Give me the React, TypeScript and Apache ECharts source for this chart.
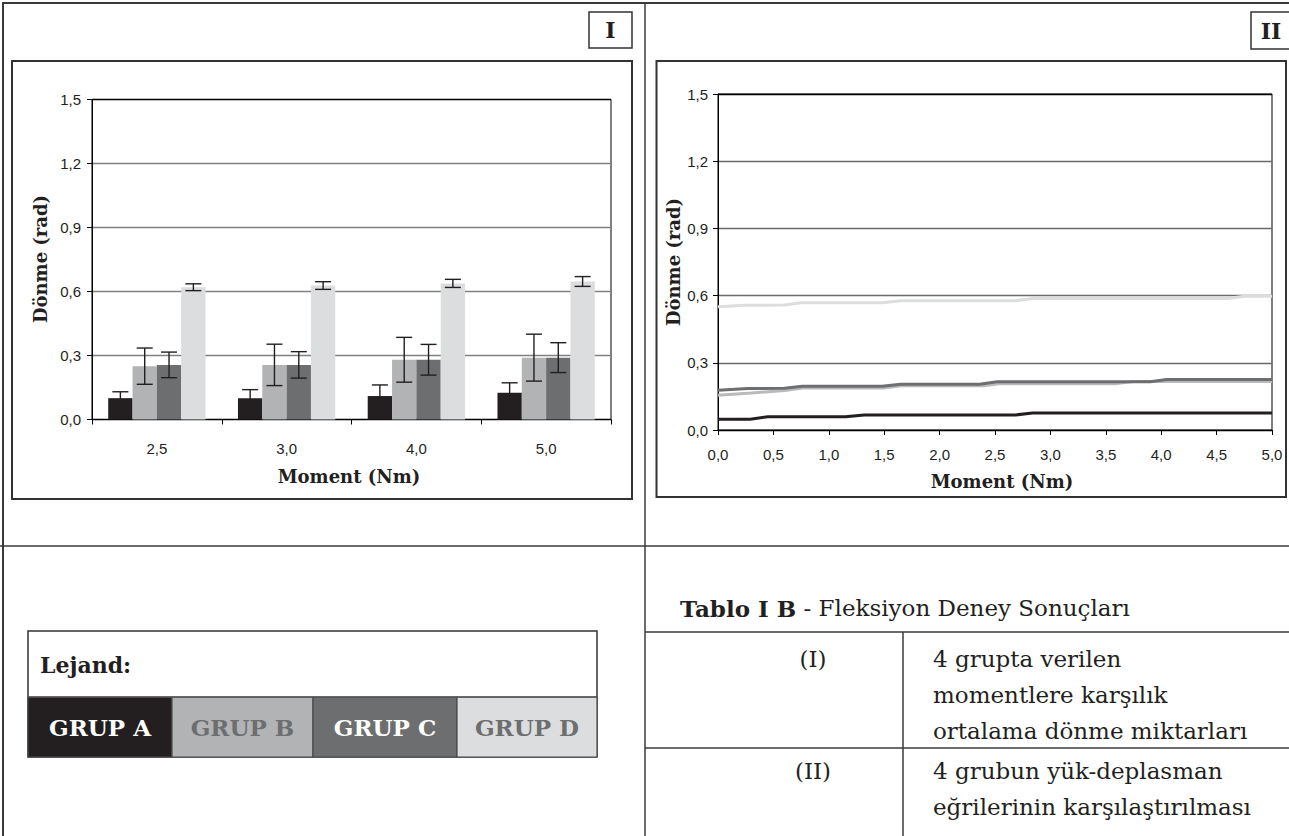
import React, { useEffect, useRef } from 'react';
import * as echarts from 'echarts';

// ---------- data ----------
const momentCats = ['2,5', '3,0', '4,0', '5,0'];
const groupNames = ['GRUP A', 'GRUP B', 'GRUP C', 'GRUP D'];
const groupColors = ['#231f20', '#b2b3b5', '#6d6e70', '#dcdddf'];
const lineColors = ['#231f20', '#b9babc', '#6d6e70', '#dcdddf'];

// Chart I: mean rotation (rad) per moment
const barA = [0.10, 0.10, 0.11, 0.125];
const barB = [0.25, 0.256, 0.28, 0.29];
const barC = [0.256, 0.256, 0.28, 0.29];
const barD = [0.62, 0.628, 0.638, 0.647];
// error (half-range)
const errA = [0.03, 0.04, 0.052, 0.047];
const errB = [0.085, 0.097, 0.105, 0.11];
const errC = [0.06, 0.062, 0.072, 0.07];
const errD = [0.016, 0.018, 0.019, 0.023];

// Chart II: curves [moment, rotation]
const curveA = [[0, 0.048], [0.29, 0.048], [0.45, 0.059], [1.15, 0.059], [1.32, 0.067], [2.68, 0.067], [2.84, 0.076], [5, 0.076]];
const curveB = [[0, 0.155], [0.3, 0.165], [0.6, 0.176], [0.78, 0.188], [1.5, 0.188], [1.65, 0.197], [2.4, 0.197], [2.55, 0.207], [3.6, 0.207], [3.75, 0.217], [5, 0.217]];
const curveC = [[0, 0.177], [0.27, 0.185], [0.6, 0.186], [0.76, 0.195], [1.48, 0.195], [1.65, 0.204], [2.36, 0.204], [2.52, 0.215], [3.9, 0.215], [4.05, 0.225], [5, 0.225]];
const curveD = [[0, 0.55], [0.25, 0.557], [0.6, 0.558], [0.75, 0.568], [1.48, 0.568], [1.65, 0.577], [2.68, 0.577], [2.84, 0.587], [4.6, 0.587], [4.75, 0.597], [5, 0.597]];

const yTicksMax = 1.5;
const yInterval = 0.3;
const xIIMax = 5;
const xIIInterval = 0.5;

const tableTitleBold = 'Tablo I B';
const tableTitleRest = ' - Fleksiyon Deney Sonuçları';
const tableRows = [
  { key: '(I)', lines: ['4 grupta verilen', 'momentlere karşılık', 'ortalama dönme miktarları'] },
  { key: '(II)', lines: ['4 grubun yük-deplasman', 'eğrilerinin karşılaştırılması'] },
];

// ---------- styling ----------
const SERIF = '"DejaVu Serif", serif';
const SANS = '"Liberation Sans", Arial, sans-serif';
const INK = '#231f20';
const fmt = (v: number) => v.toFixed(1).replace('.', ',');

function buildOption() {
  const bars = [barA, barB, barC, barD];
  const errs = [errA, errB, errC, errD];
  const curves = [curveA, curveB, curveC, curveD];

  const errData: number[][] = [];
  bars.forEach((arr, g) => arr.forEach((v, i) => errData.push([i, v, errs[g][i], g])));

  const gridLine1 = ['#000', '#808080', '#808080', '#808080', '#808080', '#000'];
  const gridLine2 = ['#000', '#6a6a6a', '#6a6a6a', '#6a6a6a', '#6a6a6a', '#000'];

  const yAxisBase = (gridIndex: number, colors: string[], margin: number) => ({
    type: 'value',
    gridIndex,
    min: 0,
    max: yTicksMax,
    interval: yInterval,
    axisLine: { show: true, lineStyle: { color: '#000', width: 1 } },
    axisTick: { show: true, length: 5, lineStyle: { color: '#000' } },
    axisLabel: { formatter: fmt, fontSize: 15, fontFamily: SANS, color: INK, margin },
    splitLine: { show: true, lineStyle: { color: colors, width: 1.3 } },
  });

  const text = (t: string, x: number, y: number, font: string, opts: any = {}) => ({
    type: 'text',
    x,
    y,
    rotation: opts.rotation || 0,
    style: {
      text: t,
      font,
      fill: opts.fill || INK,
      align: opts.align || 'center',
      verticalAlign: 'middle',
      rich: opts.rich,
    },
    z: 10,
  });
  const line = (x1: number, y1: number, x2: number, y2: number, w = 1.5, c = '#3a3a3a') => ({
    type: 'line',
    shape: { x1, y1, x2, y2 },
    style: { stroke: c, lineWidth: w },
    z: 5,
  });
  const rect = (x: number, y: number, w: number, h: number, fill: string, stroke: string, lw = 1.5) => ({
    type: 'rect',
    shape: { x, y, width: w, height: h },
    style: { fill, stroke, lineWidth: lw },
    z: 4,
  });

  const graphic: any[] = [
    // outer layout lines
    { type: 'polyline', shape: { points: [[3, 836], [3, 3], [1289, 3]] }, style: { stroke: '#3a3a3a', lineWidth: 2, fill: 'none' }, z: 5 },
    line(645, 3, 645, 836),
    line(0, 546, 1289, 546),
    // chart frames
    rect(12, 61, 620, 438, 'none', '#333', 2),
    rect(656.5, 61, 629.5, 436, 'none', '#333', 2),
    // panel labels
    rect(589, 12, 43, 36, '#fff', '#333', 1.5),
    text('I', 610.5, 30, `bold 22px ${SERIF}`),
    rect(1251, 12, 50, 37, '#fff', '#333', 1.5),
    text('II', 1271, 30.5, `bold 22px ${SERIF}`),
    // axis titles
    text('Dönme (rad)', 40, 259, `bold 18px ${SERIF}`, { rotation: Math.PI / 2 }),
    text('Moment (Nm)', 349, 476, `bold 18px ${SERIF}`),
    text('Dönme (rad)', 673, 262, `bold 18px ${SERIF}`, { rotation: Math.PI / 2 }),
    text('Moment (Nm)', 1002, 481, `bold 18px ${SERIF}`),
    // legend
    rect(28, 631, 569, 126, '#fff', '#333', 1.5),
    line(28, 697, 597, 697, 1.5, '#555'),
    text('Lejand:', 40, 665, `bold 22px ${SERIF}`, { align: 'left' }),
  ];

  const cellX = [28, 172, 313, 457, 597];
  const legendTextColors = ['#ffffff', '#6d6e70', '#ffffff', '#6d6e70'];
  groupNames.forEach((n, i) => {
    graphic.push(rect(cellX[i], 697, cellX[i + 1] - cellX[i], 60, groupColors[i], '#4a4a4a', 1.2));
    graphic.push(text(n, (cellX[i] + cellX[i + 1]) / 2, 727, `bold 23px ${SERIF}`, { fill: legendTextColors[i] }));
  });

  // table
  graphic.push(
    text(`{b|${tableTitleBold}}${tableTitleRest}`, 680, 608, `23px ${SERIF}`, {
      align: 'left',
      rich: { b: { font: `bold 23px ${SERIF}`, fill: INK } },
    })
  );
  graphic.push(line(645, 632, 1289, 632));
  graphic.push(line(645, 748, 1289, 748));
  graphic.push(line(903, 632, 903, 836));
  const rowTop = [659, 771];
  tableRows.forEach((r, ri) => {
    graphic.push(text(r.key, 813, rowTop[ri], `23px ${SERIF}`));
    r.lines.forEach((l, li) => graphic.push(text(l, 933, rowTop[ri] + li * 36, `23px ${SERIF}`, { align: 'left' })));
  });

  const series: any[] = [];
  bars.forEach((arr, g) => {
    series.push({
      type: 'bar',
      name: groupNames[g],
      xAxisIndex: 0,
      yAxisIndex: 0,
      data: arr,
      barGap: '0%',
      barCategoryGap: '25%',
      itemStyle: { color: groupColors[g] },
      z: 2,
    });
  });
  series.push({
    type: 'custom',
    name: 'hata',
    xAxisIndex: 0,
    yAxisIndex: 0,
    data: errData,
    encode: { x: 0, y: 1 },
    z: 5,
    renderItem: (params: any, api: any) => {
      const ci = api.value(0);
      const v = api.value(1);
      const e = api.value(2);
      const g = api.value(3);
      const band = api.size([1, 0])[0];
      const groupW = band * 0.75;
      const bw = groupW / 4;
      const c = api.coord([ci, v]);
      const cx = c[0] - groupW / 2 + bw * (g + 0.5);
      const top = api.coord([ci, v + e])[1];
      const bot = api.coord([ci, v - e])[1];
      const cap = 8;
      const st = { stroke: '#231f20', lineWidth: 1.4 };
      return {
        type: 'group',
        children: [
          { type: 'line', shape: { x1: cx, y1: top, x2: cx, y2: bot }, style: st },
          { type: 'line', shape: { x1: cx - cap, y1: top, x2: cx + cap, y2: top }, style: st },
          { type: 'line', shape: { x1: cx - cap, y1: bot, x2: cx + cap, y2: bot }, style: st },
        ],
      };
    },
  });
  curves.forEach((d, g) => {
    series.push({
      type: 'line',
      name: groupNames[g],
      xAxisIndex: 1,
      yAxisIndex: 1,
      data: d,
      symbol: 'none',
      showSymbol: false,
      lineStyle: { color: lineColors[g], width: 3 },
      z: 3 + (g === 0 ? 1 : 0),
    });
  });

  return {
    animation: false,
    backgroundColor: '#fff',
    grid: [
      { left: 92, top: 99.5, width: 519, height: 320, show: true, borderColor: '#000', borderWidth: 1, backgroundColor: 'transparent' },
      { left: 718, top: 94, width: 554, height: 336, show: true, borderColor: '#000', borderWidth: 1, backgroundColor: 'transparent' },
    ],
    xAxis: [
      {
        type: 'category',
        gridIndex: 0,
        data: momentCats,
        axisLine: { lineStyle: { color: '#000' } },
        axisTick: { show: true, length: 5, lineStyle: { color: '#000' } },
        axisLabel: { fontSize: 15, fontFamily: SANS, color: INK, margin: 21 },
        splitLine: { show: false },
      },
      {
        type: 'value',
        gridIndex: 1,
        min: 0,
        max: xIIMax,
        interval: xIIInterval,
        axisLine: { lineStyle: { color: '#000' } },
        axisTick: { show: true, length: 5, lineStyle: { color: '#000' } },
        axisLabel: { formatter: fmt, fontSize: 15, fontFamily: SANS, color: INK, margin: 17 },
        splitLine: { show: false },
      },
    ],
    yAxis: [yAxisBase(0, gridLine1, 11), yAxisBase(1, gridLine2, 10)],
    graphic,
    series,
  };
}

export default function App() {
  const ref = useRef<HTMLDivElement>(null);
  useEffect(() => {
    if (!ref.current) return;
    const chart = echarts.init(ref.current, null, { renderer: 'svg' });
    chart.setOption(buildOption() as any);
    return () => chart.dispose();
  }, []);
  return (
    <div
      ref={ref}
      style={{ position: 'fixed', left: 0, top: 0, width: 1289, height: 836, background: '#fff' }}
    />
  );
}
